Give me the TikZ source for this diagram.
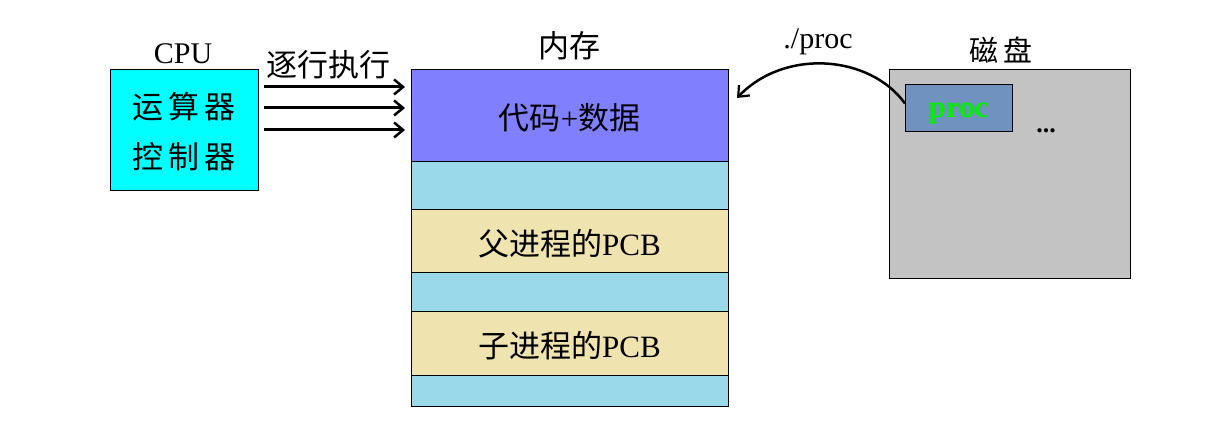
\documentclass[tikz,border=0pt]{standalone}
\usepackage{fontspec}
\setmainfont{Liberation Serif}
\newfontfamily\cjk{Noto Sans CJK SC}
\usetikzlibrary{arrows.meta,calc}
\definecolor{cpucol}{HTML}{00FFFF}
\definecolor{codecol}{HTML}{8080FF}
\definecolor{freecol}{HTML}{99D9EA}
\definecolor{pcbcol}{HTML}{EFE3B0}
\definecolor{diskcol}{HTML}{C3C3C3}
\definecolor{proccol}{HTML}{7092BE}
\definecolor{procgreen}{HTML}{00EE00}
\tikzset{
  seg/.style={draw=black, line width=1pt, inner sep=0pt, outer sep=0pt, anchor=north west, minimum width=317pt},
  lbl/.style={font=\fontsize{30}{32}\selectfont, inner sep=0pt},
  mlbl/.style={font=\fontsize{31}{34}\selectfont, inner sep=0pt},
  arr/.style={-{Straight Barb[length=9pt,width=15pt,line width=2.5pt]}, line width=3pt},
  carr/.style={-{Straight Barb[length=9pt,width=15pt,line width=2.2pt]}, line width=2.5pt},
}
\begin{document}
\begin{tikzpicture}[x=1pt,y=-1pt]
\useasboundingbox (0,0) rectangle (1221,427);
% CPU
\node[draw=black, line width=1pt, fill=cpucol, anchor=north west, minimum width=148pt, minimum height=121pt, inner sep=0pt, outer sep=0pt] (cpu) at (110,70) {};
\node[lbl] (cpulbl) at (183,54) {CPU};
\node[mlbl] (alu) at (184,107) {\cjk 运\,算\,器};
\node[mlbl] (ctl) at (184,157) {\cjk 控\,制\,器};
% memory
\node[seg, fill=codecol, minimum height=92pt] (code) at (411,70) {};
\node[mlbl] at ($(code.center)+(0,2)$) {{\cjk 代码}+{\cjk 数据}};
\node[seg, fill=freecol, minimum height=48pt] (free1) at (411,162) {};
\node[seg, fill=pcbcol, minimum height=63pt] (ppcb) at (411,210) {};
\node[mlbl] at ($(ppcb.center)+(0,2)$) {{\cjk 父进程的}PCB};
\node[seg, fill=freecol, minimum height=39pt] (free2) at (411,273) {};
\node[seg, fill=pcbcol, minimum height=64pt] (cpcb) at (411,312) {};
\node[mlbl] at ($(cpcb.center)+(0,2)$) {{\cjk 子进程的}PCB};
\node[seg, fill=freecol, minimum height=31pt] (free3) at (411,376) {};
\node[mlbl] (memlbl) at (569,46) {\cjk 内存};
% exec arrows
\node[mlbl] (exec) at (328,65) {\cjk 逐行执行};
\draw[arr, shorten <=6pt, shorten >=6pt] (cpu.east |- 0,87) -- (code.west |- 0,87);
\draw[arr, shorten <=6pt, shorten >=6pt] (cpu.east |- 0,108) -- (code.west |- 0,108);
\draw[arr, shorten <=6pt, shorten >=6pt] (cpu.east |- 0,130) -- (code.west |- 0,130);
% disk
\node[draw=black, line width=1pt, fill=diskcol, anchor=north west, minimum width=241pt, minimum height=209pt, inner sep=0pt, outer sep=0pt] (disk) at (889,70) {};
\node[font=\fontsize{29}{30}\selectfont, inner sep=0pt] (disklbl) at (1001,50) {\cjk 磁\,盘};
\node[draw=black, line width=1pt, fill=proccol, anchor=north west, minimum width=107pt, minimum height=47pt, inner sep=0pt, outer sep=0pt] (proc) at (905,85) {};
\node[text=procgreen, font=\fontsize{31}{32}\selectfont\bfseries, inner sep=0pt] (proctxt) at ($(proc.center)+(0,5)$) {proc};
\node[font=\fontsize{26}{30}\selectfont\bfseries, inner sep=0pt] (dots) at (1046,131) {...};
% load arrow
\coordinate (memtarget) at (737,98);
\draw[carr] ($(proc.west)+(0,-5)$) .. controls (870,55) and (785,48) .. (memtarget);
\node[lbl] (cmd) at (818,42) {./proc};
\end{tikzpicture}
\end{document}
